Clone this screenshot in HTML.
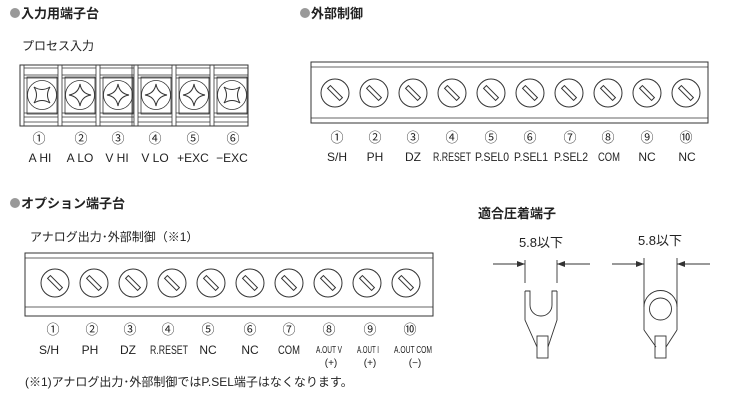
<!DOCTYPE html>
<html><head><meta charset="utf-8"><style>
body{margin:0;background:#fff;width:745px;height:410px;overflow:hidden}
svg{display:block}
text{font-family:"Liberation Sans","Noto Sans CJK JP",sans-serif;fill:#222}
.h{font-weight:bold;font-size:13px}
.s{font-size:12px}
.l{font-size:12px;text-anchor:middle}
.n{font-size:13px;text-anchor:middle}
</style></head><body>
<svg width="745" height="410" viewBox="0 0 745 410" xmlns="http://www.w3.org/2000/svg">
<defs>
<g id="sl"><circle r="14" fill="#fff" stroke="#333" stroke-width="1"/><rect x="-2" y="-8.5" width="4" height="17" fill="#fff" stroke="#333" transform="rotate(-45)"/></g>
<g id="cell" fill="none" stroke="#333" stroke-width="0.8">
<line x1="0" y1="0" x2="0" y2="61"/><line x1="4" y1="0" x2="4" y2="61"/>
<line x1="4" y1="3" x2="38" y2="3"/><line x1="4" y1="10" x2="38" y2="10"/><line x1="4" y1="13" x2="38" y2="13"/>
<line x1="4" y1="48" x2="38" y2="48"/><line x1="4" y1="52" x2="38" y2="52"/><line x1="4" y1="57" x2="38" y2="57"/>
<rect x="7" y="12" width="30" height="37"/>
<circle cx="22" cy="30" r="14.5"/>
</g>
<path id="px" d="M-8,-8 Q0,-3 8,-8 Q3,0 8,8 Q0,3 -8,8 Q-3,0 -8,-8Z" fill="none" stroke="#333" stroke-width="1"/>
<path id="pc" d="M0,-11 Q1.5,-1.5 11,0 Q1.5,1.5 0,11 Q-1.5,1.5 -11,0 Q-1.5,-1.5 0,-11Z" fill="none" stroke="#333" stroke-width="1"/>
</defs>

<circle cx="15" cy="13" r="5" fill="#999"/><text x="21" y="18" class="h">入力用端子台</text>
<text x="22" y="50" class="s">プロセス入力</text>
<rect x="20" y="65" width="228" height="61" fill="#fff" stroke="#333"/>
<g transform="translate(20,65)">
<use href="#cell" x="0"/><use href="#cell" x="38"/><use href="#cell" x="76"/><use href="#cell" x="114"/><use href="#cell" x="152"/><use href="#cell" x="190"/>
<line x1="112" y1="0" x2="112" y2="61" stroke="#333" stroke-width="0.8"/>
<use href="#px" x="22" y="30"/><use href="#pc" x="60" y="30"/><use href="#pc" x="98" y="30"/><use href="#pc" x="136" y="30"/><use href="#pc" x="174" y="30"/><use href="#px" x="212" y="30"/>
</g>
<text x="39" y="143" class="n">①</text><text x="81" y="143" class="n">②</text><text x="118" y="143" class="n">③</text><text x="155" y="143" class="n">④</text><text x="193" y="143" class="n">⑤</text><text x="233" y="143" class="n">⑥</text>
<text x="40" y="162" class="l">A HI</text><text x="80" y="162" class="l">A LO</text><text x="117" y="162" class="l">V HI</text><text x="155" y="162" class="l">V LO</text><text x="193" y="162" class="l">+EXC</text><text x="232" y="162" class="l">−EXC</text>

<circle cx="305" cy="13" r="5" fill="#999"/><text x="311" y="18" class="h">外部制御</text>
<rect x="311" y="62" width="397" height="61" fill="#fff" stroke="#333"/>
<line x1="311" y1="67" x2="708" y2="67" stroke="#333" stroke-width="0.8"/>
<line x1="311" y1="118" x2="708" y2="118" stroke="#333" stroke-width="0.8"/>
<use href="#sl" x="335" y="93"/><use href="#sl" x="374" y="93"/><use href="#sl" x="413" y="93"/><use href="#sl" x="452" y="93"/><use href="#sl" x="491" y="93"/><use href="#sl" x="530" y="93"/><use href="#sl" x="569" y="93"/><use href="#sl" x="608" y="93"/><use href="#sl" x="647" y="93"/><use href="#sl" x="686" y="93"/>
<text x="337" y="142" class="n">①</text><text x="375" y="142" class="n">②</text><text x="413" y="142" class="n">③</text><text x="452" y="142" class="n">④</text><text x="491" y="142" class="n">⑤</text><text x="530" y="142" class="n">⑥</text><text x="570" y="142" class="n">⑦</text><text x="608" y="142" class="n">⑧</text><text x="647" y="142" class="n">⑨</text><text x="686" y="142" class="n">⑩</text>
<text x="337" y="161" class="l">S/H</text><text x="375" y="161" class="l">PH</text><text x="413" y="161" class="l">DZ</text><text x="452" y="161" class="l" textLength="38" lengthAdjust="spacingAndGlyphs">R.RESET</text><text x="492" y="161" class="l" textLength="34" lengthAdjust="spacingAndGlyphs">P.SEL0</text><text x="531" y="161" class="l" textLength="34" lengthAdjust="spacingAndGlyphs">P.SEL1</text><text x="571" y="161" class="l" textLength="34" lengthAdjust="spacingAndGlyphs">P.SEL2</text><text x="609" y="161" class="l" textLength="22" lengthAdjust="spacingAndGlyphs">COM</text><text x="647" y="161" class="l">NC</text><text x="687" y="161" class="l">NC</text>

<circle cx="15" cy="203" r="5" fill="#999"/><text x="21" y="208" class="h">オプション端子台</text>
<text x="30" y="241" class="s">アナログ出力･外部制御（※1）</text>
<rect x="25" y="253" width="408" height="63" fill="#fff" stroke="#333"/>
<line x1="25" y1="258" x2="433" y2="258" stroke="#333" stroke-width="0.8"/>
<line x1="25" y1="307" x2="433" y2="307" stroke="#333" stroke-width="0.8"/>
<use href="#sl" x="55" y="283"/><use href="#sl" x="94" y="283"/><use href="#sl" x="133" y="283"/><use href="#sl" x="172" y="283"/><use href="#sl" x="211" y="283"/><use href="#sl" x="250" y="283"/><use href="#sl" x="289" y="283"/><use href="#sl" x="328" y="283"/><use href="#sl" x="367" y="283"/><use href="#sl" x="406" y="283"/>
<text x="53" y="334" class="n">①</text><text x="92" y="334" class="n">②</text><text x="130" y="334" class="n">③</text><text x="168" y="334" class="n">④</text><text x="208" y="334" class="n">⑤</text><text x="250" y="334" class="n">⑥</text><text x="289" y="334" class="n">⑦</text><text x="329" y="334" class="n">⑧</text><text x="370" y="334" class="n">⑨</text><text x="410" y="334" class="n">⑩</text>
<text x="49" y="354" class="l">S/H</text><text x="90" y="354" class="l">PH</text><text x="128" y="354" class="l">DZ</text><text x="169" y="354" class="l" textLength="38" lengthAdjust="spacingAndGlyphs">R.RESET</text><text x="208" y="354" class="l">NC</text><text x="250" y="354" class="l">NC</text><text x="289" y="354" class="l" textLength="22" lengthAdjust="spacingAndGlyphs">COM</text>
<text x="329" y="353" class="l" style="font-size:10px" textLength="26" lengthAdjust="spacingAndGlyphs">A.OUT V</text><text x="368" y="353" class="l" style="font-size:10px" textLength="22" lengthAdjust="spacingAndGlyphs">A.OUT I</text><text x="413" y="353" class="l" style="font-size:10px" textLength="38" lengthAdjust="spacingAndGlyphs">A.OUT COM</text>
<text x="331" y="366" class="l" style="font-size:10px">(+)</text><text x="370" y="366" class="l" style="font-size:10px">(+)</text><text x="415" y="366" class="l" style="font-size:10px">(−)</text>
<text x="25" y="386" class="s">(※1)アナログ出力･外部制御ではP.SEL端子はなくなります。</text>

<text x="478" y="218" class="h">適合圧着端子</text>
<g stroke="#333" stroke-width="0.9" fill="none">
<line x1="493" y1="264" x2="525" y2="264"/><line x1="557" y1="264" x2="590" y2="264"/>
<line x1="525" y1="260" x2="525" y2="283"/><line x1="557" y1="260" x2="557" y2="283"/>
<path d="M525,291 V320 L537,347 M557,291 V320 L548,347"/>
<path d="M525,291 H530 V305 A11,11 0 0 0 552,305 V291 H557"/>
<rect x="537" y="336" width="11" height="22"/>
<line x1="612" y1="264" x2="644" y2="264"/><line x1="677" y1="264" x2="710" y2="264"/>
<line x1="644" y1="258" x2="644" y2="330"/><line x1="677" y1="258" x2="677" y2="330"/>
<path d="M644,307 A16.5,16.5 0 0 1 677,307 M644,330 L656,347 M677,330 L666,347"/>
<circle cx="660.5" cy="309" r="11"/>
<rect x="655" y="336" width="11" height="22"/>
</g>
<path d="M525,264 l-8,-3 v6z M557,264 l8,-3 v6z M644,264 l-8,-3 v6z M677,264 l8,-3 v6z" fill="#333"/>
<text x="541" y="247" class="s" text-anchor="middle" style="font-size:13px">5.8以下</text>
<text x="660" y="245" class="s" text-anchor="middle" style="font-size:13px">5.8以下</text>
</svg>
</body></html>
